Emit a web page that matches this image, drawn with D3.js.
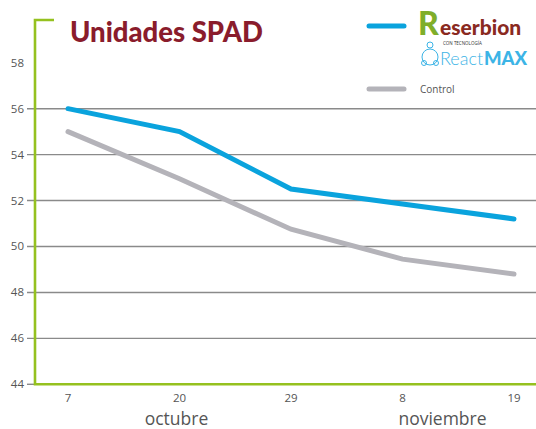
<!DOCTYPE html>
<html>
<head>
<meta charset="utf-8">
<script src="https://cdn.jsdelivr.net/npm/d3@7"></script>
<style>
  body { margin: 0; background: #fff; }
  svg { display: block; font-family: "Open Sans", sans-serif; }
</style>
</head>
<body>
<svg id="chart" width="536" height="429"></svg>
<script>
// chart data
var days = ["7", "20", "29", "8", "19"];
var reserbion = [56, 55, 52.5, 51.85, 51.2];
var control = [55, 52.95, 50.75, 49.45, 48.8];
var yTicks = [44, 46, 48, 50, 52, 54, 56, 58];
var gridTicks = [46, 48, 50, 52, 54, 56];
var months = [{label: "octubre", at: "20"}, {label: "noviembre", at: "8"}];

var w = 536, h = 429;
var SVG = d3.select("#chart");

var x = d3.scalePoint().domain(days).range([68, 514]);
var y = d3.scaleLinear().domain([44, 60]).range([384.3, 16.8]);

// grid lines
SVG.selectAll(".grid")
   .data(gridTicks)
   .enter()
   .append("line")
   .attr("class", "grid")
   .attr("x1", 27).attr("x2", w)
   .attr("y1", function(d){ return y(d); })
   .attr("y2", function(d){ return y(d); })
   .attr("stroke", "#8a8a8a")
   .attr("stroke-width", 1.4);

// small tick at 44
SVG.append("line")
   .attr("x1", 27).attr("x2", 36)
   .attr("y1", y(44)).attr("y2", y(44))
   .attr("stroke", "#8a8a8a").attr("stroke-width", 1.4);

// y labels
SVG.selectAll(".ylab")
   .data(yTicks)
   .enter()
   .append("text")
   .attr("class", "ylab")
   .attr("x", 24)
   .attr("y", function(d){ return y(d) + 4; })
   .attr("text-anchor", "end")
   .attr("font-size", 11.5)
   .attr("fill", "#555")
   .text(function(d){ return d; });

// green frame: left axis with small top cap, bottom axis
SVG.append("path")
   .attr("d", "M54,20H35V" + y(44) + "H" + w)
   .attr("fill", "none")
   .attr("stroke", "#95c11f")
   .attr("stroke-width", 2.6);

// x labels
SVG.selectAll(".xlab")
   .data(days)
   .enter()
   .append("text")
   .attr("class", "xlab")
   .attr("x", function(d){ return x(d); })
   .attr("y", 402)
   .attr("text-anchor", "middle")
   .attr("font-size", 11.5)
   .attr("fill", "#555")
   .text(function(d){ return d; });

SVG.selectAll(".month")
   .data(months)
   .enter()
   .append("text")
   .attr("class", "month")
   .attr("x", function(d){ return x(d.at) + (d.at == "8" ? 40 : -3); })
   .attr("y", 425)
   .attr("text-anchor", "middle")
   .attr("font-size", 17.5)
   .attr("fill", "#555")
   .text(function(d){ return d.label; });

// series lines
var line = d3.line()
   .x(function(d, i){ return x(days[i]); })
   .y(function(d){ return y(d); });

SVG.append("path")
   .datum(control)
   .attr("d", line)
   .attr("fill", "none")
   .attr("stroke", "#b4b3b9")
   .attr("stroke-width", 5)
   .attr("stroke-linecap", "round");

SVG.append("path")
   .datum(reserbion)
   .attr("d", line)
   .attr("fill", "none")
   .attr("stroke", "#0aa3dd")
   .attr("stroke-width", 5)
   .attr("stroke-linecap", "round");

// title
SVG.append("text")
   .attr("x", 70).attr("y", 42)
   .attr("font-family", "Lato, sans-serif")
   .attr("font-weight", "900")
   .attr("font-size", 27.5)
   .attr("fill", "#8a1c2c")
   .text("Unidades SPAD");

// legend
var legend = SVG.append("g");
legend.append("line")
   .attr("x1", 369).attr("x2", 404).attr("y1", 26).attr("y2", 26)
   .attr("stroke", "#0aa3dd").attr("stroke-width", 5).attr("stroke-linecap", "round");
legend.append("line")
   .attr("x1", 369).attr("x2", 404).attr("y1", 89).attr("y2", 89)
   .attr("stroke", "#b4b3b9").attr("stroke-width", 5).attr("stroke-linecap", "round");
legend.append("text")
   .attr("x", 420).attr("y", 93)
   .attr("font-size", 10).attr("fill", "#555")
   .text("Control");

// logo: Reserbion con tecnología ReactMAX
var logo = legend.append("g");
logo.append("text")
   .attr("x", 418).attr("y", 35)
   .attr("font-family", "Lato, sans-serif").attr("font-weight", "900")
   .attr("font-size", 32).attr("fill", "#7fae2a")
   .text("R");
logo.append("text")
   .attr("x", 440).attr("y", 35)
   .attr("font-family", "Lato, sans-serif").attr("font-weight", "900")
   .attr("font-size", 21).attr("fill", "#8a2a1f")
   .text("eserbion");
logo.append("text")
   .attr("x", 443).attr("y", 44.5)
   .attr("font-size", 4.5).attr("fill", "#333")
   .text("CON TECNOLOGÍA");
logo.append("text")
   .attr("x", 440).attr("y", 65)
   .attr("font-family", "Lato, sans-serif")
   .attr("font-size", 18).attr("fill", "#3cb4e6")
   .attr("font-weight", "300")
   .text("React");
logo.append("text")
   .attr("x", 484).attr("y", 65)
   .attr("font-family", "Lato, sans-serif")
   .attr("font-size", 18.5).attr("fill", "#3cb4e6")
   .attr("font-weight", "900")
   .text("MAX");
var icon = logo.append("g")
   .attr("fill", "none").attr("stroke", "#3cb4e6").attr("stroke-width", 1);
icon.append("circle").attr("cx", 430).attr("cy", 57).attr("r", 8);
icon.append("circle").attr("cx", 430).attr("cy", 45).attr("r", 3);
icon.append("circle").attr("cx", 424).attr("cy", 63).attr("r", 2.5);
icon.append("circle").attr("cx", 436).attr("cy", 63).attr("r", 2.5);
</script>
</body>
</html>
